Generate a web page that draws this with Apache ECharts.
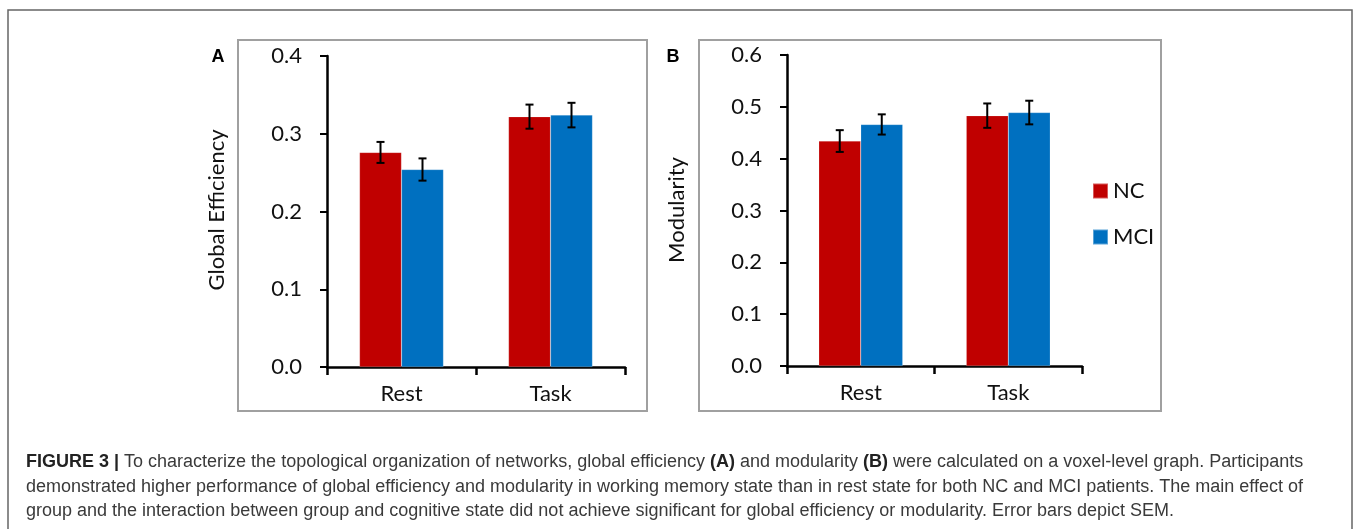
<!DOCTYPE html>
<html>
<head>
<meta charset="utf-8">
<script src="https://cdn.jsdelivr.net/npm/echarts@6/dist/echarts.min.js"></script>
<style>
html,body{margin:0;padding:0;background:#fff;}
#chart{width:1356px;height:529px;}
</style>
</head>
<body>
<div id="chart"></div>
<script>
// ---- data ----
const categories = ['Rest', 'Task'];
const seriesNames = ['NC', 'MCI'];
const effNC = [0.276, 0.322];
const effMCI = [0.254, 0.324];
const effNCErr = [0.0135, 0.0155];
const effMCIErr = [0.0143, 0.0158];
const modNC = [0.434, 0.483];
const modMCI = [0.466, 0.489];
const modNCErr = [0.021, 0.0235];
const modMCIErr = [0.0195, 0.0228];
const effTicks = [0.0, 0.1, 0.2, 0.3, 0.4];
const modTicks = [0.0, 0.1, 0.2, 0.3, 0.4, 0.5, 0.6];
const captionLines = [
  [['b','FIGURE 3 | '],['n','To characterize the topological organization of networks, global efficiency '],['b','(A)'],['n',' and modularity '],['b','(B)'],['n',' were calculated on a voxel-level graph. Participants']],
  [['n','demonstrated higher performance of global efficiency and modularity in working memory state than in rest state for both NC and MCI patients. The main effect of']],
  [['n','group and the interaction between group and cognitive state did not achieve significant for global efficiency or modularity. Error bars depict SEM.']]
];

const RED = '#C00000', BLUE = '#0070C0';
const BAR_W = 42;
const chart = echarts.init(document.getElementById('chart'), null, {renderer: 'canvas'});

const axisFont = 'Lato, "Open Sans", sans-serif';
const AXIS_FS = 22;

function yAxisDef(gridIndex, max) {
  return {
    type: 'value', gridIndex, min: 0, max, interval: 0.1,
    axisLine: {show: true, lineStyle: {color: '#000', width: 2.5}},
    axisTick: {show: true, length: 7, lineStyle: {color: '#000', width: 2}},
    splitLine: {show: false},
    axisLabel: {formatter: v => v.toFixed(1), fontSize: AXIS_FS, color: '#111', fontFamily: axisFont, margin: 25}
  };
}
function xAxisDef(gridIndex) {
  return {
    type: 'category', gridIndex, data: categories,
    axisLine: {show: true, lineStyle: {color: '#000', width: 2.5}},
    axisTick: {show: true, length: 8, lineStyle: {color: '#000', width: 2.5}},
    axisLabel: {fontSize: AXIS_FS, color: '#111', fontFamily: axisFont, margin: 16}
  };
}
function barSeries(name, data, idx, color) {
  return {
    name, type: 'bar', xAxisIndex: idx, yAxisIndex: idx, data,
    barWidth: BAR_W, barGap: '0%',
    itemStyle: {color, borderColor: 'rgba(255,255,255,0.35)', borderWidth: 0.5},
    z: 2
  };
}
function errSeries(vals, errs, idx, offset) {
  return {
    type: 'custom', xAxisIndex: idx, yAxisIndex: idx, z: 5,
    data: vals.map((v, i) => [i, v, errs[i]]),
    renderItem: function (params, api) {
      const i = api.value(0), v = api.value(1), e = api.value(2);
      const hi = api.coord([i, v + e]);
      const lo = api.coord([i, v - e]);
      const x = hi[0] + offset;
      const cap = 4;
      const st = {stroke: '#000', lineWidth: 2};
      return {type: 'group', children: [
        {type: 'line', shape: {x1: x, y1: hi[1], x2: x, y2: lo[1]}, style: st},
        {type: 'line', shape: {x1: x - cap, y1: hi[1], x2: x + cap, y2: hi[1]}, style: st},
        {type: 'line', shape: {x1: x - cap, y1: lo[1], x2: x + cap, y2: lo[1]}, style: st}
      ]};
    }
  };
}

function captionText(parts, y) {
  const text = parts.map(p => '{' + p[0] + '|' + p[1] + '}').join('');
  return {
    type: 'text', x: 26, y: y,
    style: {
      text, verticalAlign: 'middle',
      rich: {
        b: {fontFamily: '"Liberation Sans", Arial, sans-serif', fontWeight: 'bold', fontSize: 18, fill: '#222'},
        n: {fontFamily: '"Liberation Sans", Arial, sans-serif', fontSize: 18, fill: '#3a3a3a'}
      }
    }
  };
}

const option = {
  backgroundColor: '#fff',
  animation: false,
  grid: [
    {left: 327, top: 56, width: 298, height: 311},
    {left: 787, top: 55, width: 295, height: 311}
  ],
  xAxis: [xAxisDef(0), xAxisDef(1)],
  yAxis: [yAxisDef(0, 0.4), yAxisDef(1, 0.6)],
  legend: {
    data: seriesNames, orient: 'vertical', left: 1092, top: 180, padding: 0,
    itemWidth: 15, itemHeight: 15, itemGap: 24, icon: 'rect',
    textStyle: {fontSize: AXIS_FS, color: '#111', fontFamily: axisFont}
  },
  series: [
    barSeries('NC', effNC, 0, RED),
    barSeries('MCI', effMCI, 0, BLUE),
    barSeries('NC', modNC, 1, RED),
    barSeries('MCI', modMCI, 1, BLUE),
    errSeries(effNC, effNCErr, 0, -BAR_W / 2),
    errSeries(effMCI, effMCIErr, 0, BAR_W / 2),
    errSeries(modNC, modNCErr, 1, -BAR_W / 2),
    errSeries(modMCI, modMCIErr, 1, BAR_W / 2)
  ],
  graphic: [
    {type: 'rect', shape: {x: 8, y: 10, width: 1344, height: 540}, style: {fill: 'none', stroke: '#666', lineWidth: 1.5}, silent: true, z: -10},
    {type: 'rect', shape: {x: 238, y: 40, width: 409, height: 371}, style: {fill: 'none', stroke: '#a0a0a0', lineWidth: 2}, silent: true, z: -10},
    {type: 'rect', shape: {x: 699, y: 40, width: 462, height: 371}, style: {fill: 'none', stroke: '#a0a0a0', lineWidth: 2}, silent: true, z: -10},
    {type: 'text', x: 218, y: 57, style: {text: 'A', fontSize: 18, fontWeight: 'bold', fontFamily: '"Liberation Sans", Arial, sans-serif', fill: '#000', align: 'center', verticalAlign: 'middle'}},
    {type: 'text', x: 673, y: 57, style: {text: 'B', fontSize: 18, fontWeight: 'bold', fontFamily: '"Liberation Sans", Arial, sans-serif', fill: '#000', align: 'center', verticalAlign: 'middle'}},
    {type: 'text', x: 217, y: 210, rotation: Math.PI / 2, style: {text: 'Global Efficiency', fontSize: AXIS_FS, fontFamily: axisFont, fill: '#111', align: 'center', verticalAlign: 'middle'}},
    {type: 'text', x: 677, y: 210, rotation: Math.PI / 2, style: {text: 'Modularity', fontSize: AXIS_FS, fontFamily: axisFont, fill: '#111', align: 'center', verticalAlign: 'middle'}},
    captionText(captionLines[0], 462),
    captionText(captionLines[1], 487),
    captionText(captionLines[2], 511)
  ]
};
chart.setOption(option);
</script>
</body>
</html>
